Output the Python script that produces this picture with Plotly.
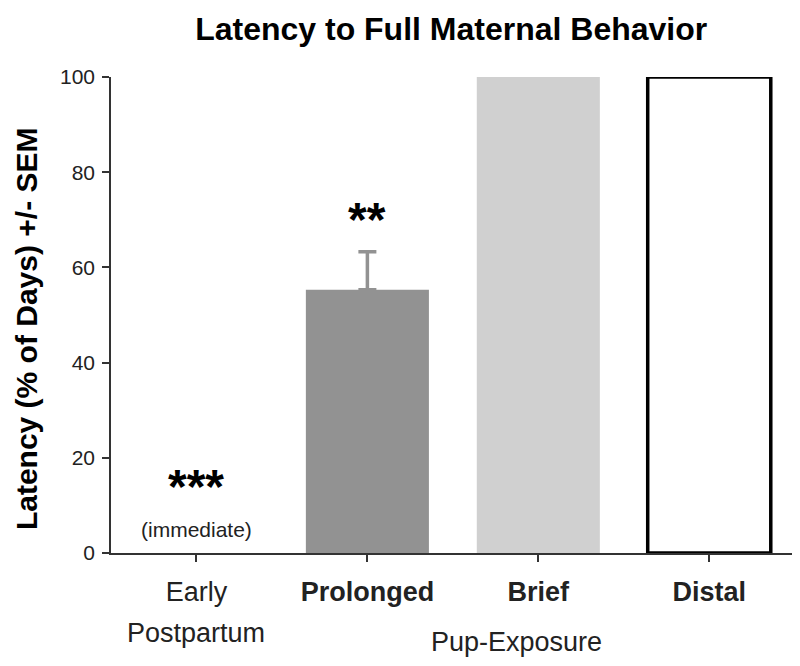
import plotly.graph_objects as go

categories = ["Early Postpartum", "Prolonged", "Brief", "Distal"]
tick_first = ["Early", "<b>Prolonged</b>", "<b>Brief</b>", "<b>Distal</b>"]
values = [0, 55.3, 100, 100]
sem_plus = [0, 8, 0, 0]
fills = ["#929292", "#929292", "#d0d0d0", "#ffffff"]
outlines = ["#929292", "#929292", "#d0d0d0", "#000000"]
outline_w = [0, 0, 0, 3.5]
sig_text = ["***", "**", "", ""]
sig_y = [14.0, 70.0, None, None]
y_ticks = [0, 20, 40, 60, 80, 100]

FONT = "Liberation Sans, Arial, Helvetica, sans-serif"
xs = list(range(len(categories)))

fig = go.Figure()
for i in xs:
    kw = {}
    if sem_plus[i] > 0:
        kw["error_y"] = dict(type="data", symmetric=False, array=[sem_plus[i]],
                             arrayminus=[0], color=fills[i], thickness=3.5, width=9)
    fig.add_trace(go.Bar(x=[xs[i]], y=[values[i]], width=0.72,
                         marker=dict(color=fills[i], line=dict(color=outlines[i], width=outline_w[i])),
                         showlegend=False, **kw))

ann = []
for i in xs:
    if sig_text[i]:
        ann.append(dict(x=xs[i], y=sig_y[i], text="<b>%s</b>" % sig_text[i], showarrow=False,
                        yanchor="middle",
                        font=dict(size=48, color="#000", family=FONT), xref="x", yref="y"))
ann.append(dict(x=0, y=4.9, text="(immediate)", showarrow=False, yanchor="middle",
                font=dict(size=21, color="#222", family=FONT), xref="x", yref="y"))
ann.append(dict(x=0, y=-0.168, text="Postpartum", showarrow=False, yanchor="middle",
                font=dict(size=27, color="#222", family=FONT), xref="x", yref="paper"))
ann.append(dict(x=2 - 0.13, y=-0.188, text="Pup-Exposure", showarrow=False, yanchor="middle",
                font=dict(size=27, color="#222", family=FONT), xref="x", yref="paper"))
ann.append(dict(x=-0.123, y=0.4706, text="<b>Latency (% of Days) +/- SEM</b>", showarrow=False,
                textangle=-90, xanchor="center", yanchor="middle",
                font=dict(size=30, color="#000", family=FONT), xref="paper", yref="paper"))

fig.update_layout(
    width=800, height=666,
    margin=dict(l=103, r=15, t=69, b=121),
    paper_bgcolor="white", plot_bgcolor="white",
    barmode="overlay",
    title=dict(text="<b>Latency to Full Maternal Behavior</b>", x=0.554, xanchor="center",
               y=0.969, yanchor="middle", font=dict(size=32, color="#000", family=FONT)),
    font=dict(family=FONT, color="#222"),
    xaxis=dict(range=[-0.5, 3.49], tickvals=xs, ticktext=tick_first,
               showline=True, linecolor="#333", linewidth=1.5, ticks="outside",
               ticklen=7, tickcolor="#333", tickwidth=1.5, showgrid=False, zeroline=False,
               tickfont=dict(size=27, color="#222"), ticklabelstandoff=7),
    yaxis=dict(range=[0, 100], tickvals=y_ticks,
               showline=True, linecolor="#333", linewidth=1.5, ticks="outside",
               ticklen=7, tickcolor="#333", tickwidth=1.5, showgrid=False, zeroline=False,
               tickfont=dict(size=21, color="#222"), ticklabelstandoff=3),
    annotations=ann,
)
fig.write_html("out.html")
